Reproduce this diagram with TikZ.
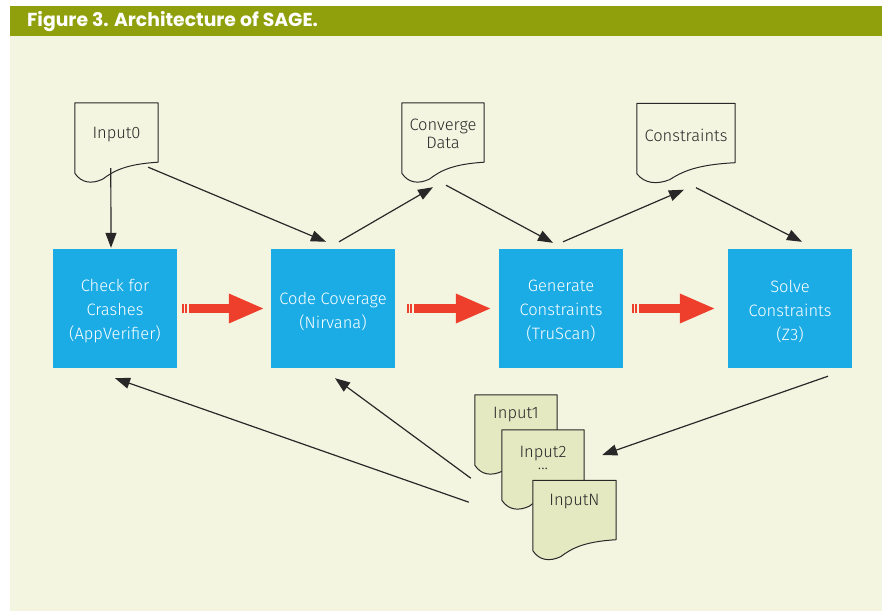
\documentclass[tikz,border=0pt]{standalone}
\usepackage{fontspec}
\setmainfont{Fira Sans}
\newfontfamily\lightfont{Fira Sans Light}
\newfontfamily\titlefont{Poppins}
\usetikzlibrary{arrows.meta}
\definecolor{bandgreen}{RGB}{143,160,12}
\definecolor{bgcol}{RGB}{243,245,224}
\definecolor{boxblue}{RGB}{27,172,230}
\definecolor{arrred}{RGB}{238,62,44}
\definecolor{docfill}{RGB}{228,233,193}
\definecolor{inkgray}{RGB}{40,40,40}
\tikzset{
  stagebox/.style={fill=boxblue, draw=none, minimum width=124pt, minimum height=119pt, inner sep=0pt},
  stagetext/.style={text=white, align=center, inner sep=0pt, font=\lightfont\fontsize{16.5}{24}\selectfont},
  docnode/.style={draw=none, minimum width=#1, minimum height=59pt, inner sep=0pt},
  doctext/.style={text=inkgray, inner sep=0pt, font=\lightfont\fontsize{16.5}{18}\selectfont},
  docline/.style={draw=inkgray, line width=1pt, line join=round},
  flow/.style={draw=inkgray, line width=1.2pt, -{Triangle[length=15pt,width=11pt]}},
  bigflow/.style={draw=arrred, line width=9pt, -{Triangle[length=36pt,width=27pt]}},
}
\newcommand\drawdoc[3]{%
  \draw[docline, fill=#1] (#2.north west) -- (#2.north east) -- (#2.south east)
   .. controls +(-0.4*#3, 2) and +(0.13*#3, -8) .. ++(-0.67*#3, 17)
   .. controls +(-0.13*#3, 5) and +(0.08*#3, 10) .. ([shift={(0,11)}]#2.south west) -- cycle;}
\newcommand\stripes[2]{%
  \fill[arrred] ([shift={(#2,-4.5)}]#1) rectangle ++(1.4,9);
  \fill[arrred] ([shift={(#2+3.2,-4.5)}]#1) rectangle ++(1.6,9);}
\begin{document}
\begin{tikzpicture}[x=1pt,y=-1pt]
\useasboundingbox (0,0) rectangle (882,615);
\fill[white] (0,0) rectangle (882,615);
\fill[bgcol] (10,36) rectangle (882,611);
\fill[bandgreen] (10,6) rectangle (882,36);
\node[anchor=west, text=white, inner sep=0pt, font=\titlefont\bfseries\fontsize{18.8}{22}\selectfont] (title) at (27,22) {Figure 3. Architecture of SAGE.};

% stage boxes
\node[stagebox] (b1) at (115,308.5) {};
\node[stagetext] (b1t) at ([yshift=-2.5pt]b1.center) {Check for\\Crashes\\(AppVerifier)};
\node[stagebox] (b2) at (333,308.5) {};
\node[stagetext] (b2t) at ([yshift=-2.5pt]b2.center) {Code Coverage\\(Nirvana)};
\node[stagebox] (b3) at (561,308.5) {};
\node[stagetext] (b3t) at ([yshift=-2.5pt]b3.center) {Generate\\Constraints\\(TruScan)};
\node[stagebox] (b4) at (790,308.5) {};
\node[stagetext] (b4t) at ([yshift=-2.5pt]b4.center) {Solve\\Constraints\\(Z3)};

% documents at top
\node[docnode=83pt] (in0) at (116.5,132.5) {};
\drawdoc{none}{in0}{83}
\node[doctext] (in0t) at (116.5,135) {Input0};

\node[docnode=82pt] (cd) at (443,132.5) {};
\drawdoc{none}{cd}{82}
\node[doctext, align=center] (cdt) at (443,134) {Converge\\Data};

\node[docnode=98pt] (cons) at (686,133) {};
\drawdoc{none}{cons}{98}
\node[doctext] (const) at (686,135) {Constraints};

% stacked input documents
\node[docnode=82pt] (in1) at (516,424.5) {};
\drawdoc{docfill}{in1}{82}
\node[doctext] (in1t) at (516,415) {Input1};

\node[docnode=82pt] (in2) at (543,459.5) {};
\drawdoc{docfill}{in2}{82}
\node[doctext, anchor=base] (in2t) at (543,457) {Input2};
\node[doctext, anchor=base] (in2d) at (543,469.5) {...};

\node[docnode=83pt] (inN) at (574.5,510) {};
\drawdoc{docfill}{inN}{83}
\node[doctext] (inNt) at (574.5,502) {InputN};

% black connectors
\draw[flow] ([shift={(36,6)}]in0.south west) -- ([shift={(-4,-1)}]b1.north);
\draw[flow] ([shift={(-10,5)}]in0.south east) -- ([shift={(-7,-7)}]b2.north);
\draw[flow] ([shift={(6,-7)}]b2.north) -- ([shift={(-10,25)}]cd.south);
\draw[flow] ([shift={(3,23)}]cd.south) -- ([shift={(-8,-6)}]b3.north);
\draw[flow] ([shift={(2,-7)}]b3.north) -- ([shift={(-2,27)}]cons.south);
\draw[flow] ([shift={(10,25)}]cons.south) -- ([shift={(12,-7)}]b4.north);
\draw[flow] ([shift={(38,8)}]b4.south) -- ([shift={(18,-4.5)}]in2.east);
\draw[flow] ([shift={(-6,48)}]in1.south west) -- ([shift={(0,10)}]b1.south);
\draw[flow] ([shift={(-4,24)}]in1.south west) -- ([shift={(2,10)}]b2.south);

% red connectors
\stripes{b1.east}{5}
\draw[bigflow] ([shift={(11.7,0)}]b1.east) -- ([shift={(-6,0)}]b2.west);
\stripes{b2.east}{12}
\draw[bigflow] ([shift={(18.7,0)}]b2.east) -- ([shift={(-7,0)}]b3.west);
\stripes{b3.east}{9}
\draw[bigflow] ([shift={(15.7,0)}]b3.east) -- ([shift={(-12,0)}]b4.west);
\end{tikzpicture}
\end{document}
